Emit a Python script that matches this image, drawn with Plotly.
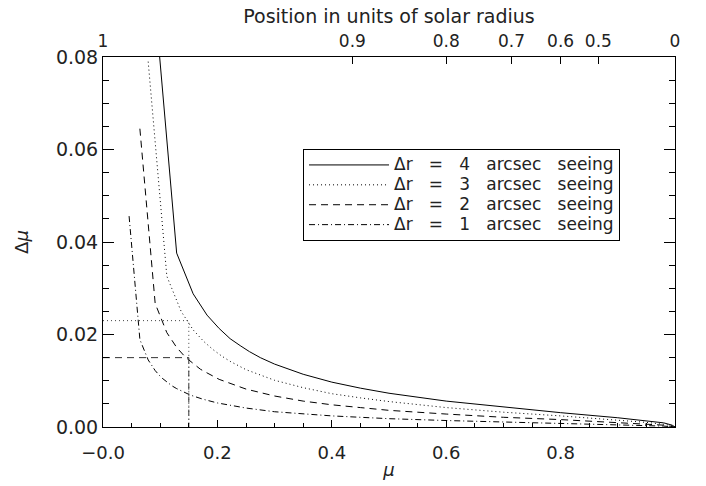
import numpy as np
import plotly.graph_objects as go

# ---- data ----
mu_4 = [0.0912, 0.1288, 0.1576, 0.1818, 0.2031, 0.2222, 0.2398, 0.2560, 0.275, 0.30, 0.35, 0.40,
        0.45, 0.50, 0.60, 0.70, 0.80, 0.90, 0.95, 0.98, 0.995, 1.0]
dmu_4 = [0.0912, 0.0376, 0.0288, 0.0242, 0.0213, 0.0191, 0.0176, 0.0163, 0.0150, 0.0136, 0.0114, 0.0097,
         0.0084, 0.0073, 0.0056, 0.0043, 0.0031, 0.0020, 0.0014, 0.0009, 0.0004, 0.0]

mu_3 = [0.0790, 0.1116, 0.1366, 0.1576, 0.1761, 0.1927, 0.2080, 0.2222, 0.25, 0.30, 0.35, 0.40,
        0.45, 0.50, 0.60, 0.70, 0.80, 0.90, 0.95, 0.98, 0.995, 1.0]
dmu_3 = [0.0790, 0.0326, 0.0250, 0.0210, 0.0185, 0.0167, 0.0153, 0.0142, 0.0124, 0.0101, 0.0085, 0.0072,
         0.0063, 0.0055, 0.0042, 0.0032, 0.0024, 0.0015, 0.0010, 0.0006, 0.0003, 0.0]

mu_2 = [0.0645, 0.0912, 0.1116, 0.1288, 0.1440, 0.1576, 0.1702, 0.1818, 0.1927, 0.2031, 0.25, 0.30,
        0.35, 0.40, 0.45, 0.50, 0.60, 0.70, 0.80, 0.90, 0.95, 0.98, 1.0]
dmu_2 = [0.0645, 0.0267, 0.0204, 0.0172, 0.0151, 0.0137, 0.0125, 0.0117, 0.0109, 0.0103, 0.0082, 0.0067,
         0.0056, 0.0048, 0.0042, 0.0036, 0.0028, 0.0021, 0.0016, 0.0010, 0.0007, 0.0004, 0.0]

mu_1 = [0.0456, 0.0645, 0.0790, 0.0912, 0.1019, 0.1116, 0.1205, 0.1288, 0.1366, 0.1440, 0.1510, 0.1576,
        0.175, 0.20, 0.25, 0.30, 0.35, 0.40, 0.45, 0.50, 0.60, 0.70, 0.80, 0.90, 0.95, 0.98, 1.0]
dmu_1 = [0.0456, 0.0189, 0.0145, 0.0122, 0.0107, 0.0097, 0.0089, 0.0083, 0.0078, 0.0074, 0.0070, 0.0067,
         0.0060, 0.0052, 0.0041, 0.0033, 0.0028, 0.0024, 0.0021, 0.0018, 0.0014, 0.0011, 0.0008, 0.0005,
         0.0003, 0.0002, 0.0]

series_names = ["Δr = 4 arcsec seeing", "Δr = 3 arcsec seeing",
                "Δr = 2 arcsec seeing", "Δr = 1 arcsec seeing"]

# guide lines
guide_mu = 0.15
guide_dmu_3 = 0.023
guide_dmu_2 = 0.015

# tick labels
x_tickvals = [0.0, 0.2, 0.4, 0.6, 0.8]
x_ticktext = ["\u22120.0", "0.2", "0.4", "0.6", "0.8"]
top_r = [1.0, 0.9, 0.8, 0.7, 0.6, 0.5, 0.0]
top_ticktext = ["1", "0.9", "0.8", "0.7", "0.6", "0.5", "0"]
top_tickvals = list(np.sqrt(1.0 - np.array(top_r) ** 2))

FONT = "DejaVu Sans"
TXT = "#222222"

def legend_label(s):
    s = s.replace(" ", "\u00a0\u00a0\u00a0")
    return '<span style="font-size:17px">' + s + '</span>'

fig = go.Figure()

styles = ["solid", "1px,3px", "7px,5px", "6px,3px,1px,3px"]
data = [(mu_4, dmu_4), (mu_3, dmu_3), (mu_2, dmu_2), (mu_1, dmu_1)]
for (xs, ys), dash, name in zip(data, styles, series_names):
    fig.add_trace(go.Scatter(x=xs, y=ys, mode="lines", name=legend_label(name),
                             line=dict(color="black", width=1, dash=dash),
                             hoverinfo="skip"))

# guides
fig.add_trace(go.Scatter(x=[0, guide_mu, guide_mu], y=[guide_dmu_3, guide_dmu_3, 0],
                         mode="lines", showlegend=False, hoverinfo="skip",
                         line=dict(color="#444", width=1, dash="1px,3px"), xaxis="x2"))
fig.add_trace(go.Scatter(x=[0, guide_mu], y=[guide_dmu_2, guide_dmu_2],
                         mode="lines", showlegend=False, hoverinfo="skip",
                         line=dict(color="#333", width=1, dash="7px,5px")))
fig.add_trace(go.Scatter(x=[guide_mu, guide_mu], y=[guide_dmu_2, 0],
                         mode="lines", showlegend=False, hoverinfo="skip",
                         line=dict(color="#333", width=1, dash="6px,3px,1px,3px")))

fig.update_layout(
    width=706, height=486,
    margin=dict(l=103, r=31, t=57, b=59, autoexpand=False),
    paper_bgcolor="white", plot_bgcolor="white",
    font=dict(family=FONT, color=TXT, size=18),
    showlegend=True,
    legend=dict(x=0.3497, y=0.7514, xanchor="left", yanchor="top",
                bgcolor="white", bordercolor="black", borderwidth=1,
                font=dict(family=FONT, size=13, color=TXT),
                itemwidth=80, tracegroupgap=0),
    xaxis=dict(range=[0, 1], showline=True, linecolor="black", linewidth=1,
               showgrid=False, zeroline=False, automargin=False,
               tickmode="array", tickvals=x_tickvals, ticktext=x_ticktext,
               ticks="inside", ticklen=7, tickcolor="black", ticklabelstandoff=9,
               minor=dict(ticks="inside", ticklen=4, tickmode="linear", tick0=0, dtick=0.05,
                          tickcolor="black", showgrid=False),
               tickfont=dict(size=18),
               title=dict(text="<i>μ</i>", font=dict(size=18), standoff=1)),
    xaxis2=dict(range=[0, 1], overlaying="x", side="top", showline=True,
                linecolor="black", linewidth=1, showgrid=False, zeroline=False, automargin=False,
                tickmode="array", tickvals=top_tickvals, ticktext=top_ticktext,
                ticks="inside", ticklen=7, tickcolor="black", ticklabelstandoff=2,
                tickfont=dict(size=17),
                title=dict(text="Position in units of solar radius", font=dict(size=19), standoff=2)),
    yaxis=dict(range=[0, 0.08], showline=True, linecolor="black", linewidth=1,
               mirror="ticks", showgrid=False, zeroline=False, automargin=False,
               tickmode="linear", tick0=0, dtick=0.02, tickformat=".2f",
               ticks="inside", ticklen=11, tickcolor="black",
               minor=dict(ticks="inside", ticklen=6, tickmode="linear", tick0=0, dtick=0.005,
                          tickcolor="black", showgrid=False),
               tickfont=dict(size=19),
               title=dict(text="Δ<i>μ</i>", font=dict(size=18), standoff=22)),
)

fig.write_html("out.html")
